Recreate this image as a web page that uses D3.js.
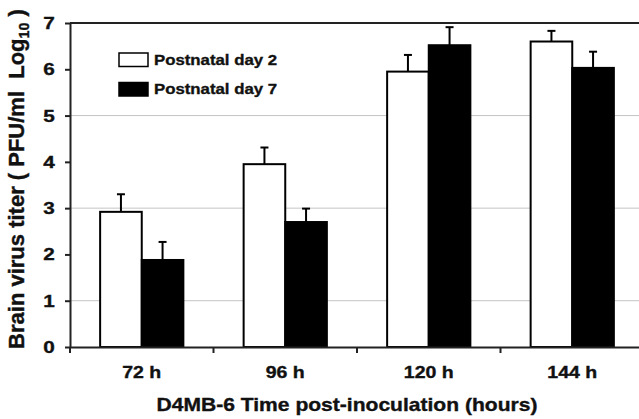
<!DOCTYPE html>
<html>
<head>
<meta charset="utf-8">
<script src="https://cdn.jsdelivr.net/npm/d3@7"></script>
<style>
  body { margin: 0; background: #fff; }
  svg { display: block; font-family: "Liberation Sans", Arial, sans-serif; font-weight: bold; }
  svg text { stroke: #111; stroke-width: 0.35px; }
</style>
</head>
<body>
<div id="container"></div>
<script>
// data
const categories = ["72 h", "96 h", "120 h", "144 h"];
const seriesNames = ["Postnatal day 2", "Postnatal day 7"];
const day2Values = [2.92, 3.95, 5.95, 6.60];
const day2Errors = [0.38, 0.36, 0.36, 0.23];
const day7Values = [1.88, 2.70, 6.52, 6.03];
const day7Errors = [0.39, 0.29, 0.39, 0.35];
const yTicks = [0, 1, 2, 3, 4, 5, 6, 7];
const gridValues = [1, 3, 5];

const width = 639;
const height = 419;
const margin = {top: 23, right: -5, bottom: 72, left: 70};
const innerRight = width - margin.right;
const innerBottom = height - margin.bottom;

const svg = d3.select("#container")
  .append("svg")
  .attr("width", width)
  .attr("height", height);

// scales
const x0 = d3.scaleBand()
  .domain(categories)
  .range([margin.left, innerRight])
  .paddingInner(0.42)
  .paddingOuter(0.21);

const x1 = d3.scaleBand()
  .domain(seriesNames)
  .range([0, x0.bandwidth()]);

const y = d3.scaleLinear()
  .domain([0, 7])
  .range([innerBottom, margin.top]);

const rows = categories.map((c, i) => ({
  cat: c,
  bars: [
    {name: seriesNames[0], value: day2Values[i], err: day2Errors[i], fill: "#fff"},
    {name: seriesNames[1], value: day7Values[i], err: day7Errors[i], fill: "#000"}
  ]
}));

// gridlines
svg.append("g")
  .selectAll("line")
  .data(gridValues)
  .join("line")
  .attr("x1", margin.left)
  .attr("x2", innerRight)
  .attr("y1", d => y(d))
  .attr("y2", d => y(d))
  .attr("stroke", "#c4c4c4")
  .attr("stroke-width", 1);

// top frame
svg.append("line")
  .attr("x1", margin.left)
  .attr("x2", innerRight)
  .attr("y1", y(7))
  .attr("y2", y(7))
  .attr("stroke", "#222")
  .attr("stroke-width", 2);

// bars
const group = svg.append("g")
  .selectAll("g")
  .data(rows)
  .join("g")
  .attr("transform", d => `translate(${x0(d.cat)},0)`);

group.selectAll("rect")
  .data(d => d.bars)
  .join("rect")
  .attr("x", d => x1(d.name))
  .attr("y", d => y(d.value))
  .attr("width", x1.bandwidth())
  .attr("height", d => y(0) - y(d.value))
  .attr("fill", d => d.fill)
  .attr("stroke", "#000")
  .attr("stroke-width", 2);

// error bars (upper only)
const err = group.selectAll("g.err")
  .data(d => d.bars)
  .join("g")
  .attr("class", "err")
  .attr("stroke", "#000")
  .attr("stroke-width", 2);

err.append("line")
  .attr("x1", d => x1(d.name) + x1.bandwidth() / 2)
  .attr("x2", d => x1(d.name) + x1.bandwidth() / 2)
  .attr("y1", d => y(d.value))
  .attr("y2", d => y(d.value + d.err));

err.append("line")
  .attr("x1", d => x1(d.name) + x1.bandwidth() / 2 - 4)
  .attr("x2", d => x1(d.name) + x1.bandwidth() / 2 + 4)
  .attr("y1", d => y(d.value + d.err))
  .attr("y2", d => y(d.value + d.err));

// y axis
const yAxis = svg.append("g")
  .attr("transform", `translate(${margin.left},0)`)
  .call(d3.axisLeft(y).tickValues(yTicks).tickFormat(d3.format("d")).tickSize(5).tickSizeOuter(0).tickPadding(7.5));

yAxis.selectAll("path, line").attr("stroke", "#222").attr("stroke-width", 2);
yAxis.selectAll("text")
  .attr("font-size", 17)
  .attr("font-family", "Liberation Sans, Arial, sans-serif")
  .attr("font-weight", "bold")
  .attr("fill", "#111")
  .attr("transform", "scale(1.22,1)");

// x axis
const xAxis = svg.append("g")
  .attr("transform", `translate(0,${innerBottom})`)
  .call(d3.axisBottom(x0).tickSize(0).tickSizeOuter(0).tickPadding(20));

xAxis.select("path").attr("stroke", "#222").attr("stroke-width", 2);
xAxis.selectAll("text")
  .attr("font-size", 16)
  .attr("font-family", "Liberation Sans, Arial, sans-serif")
  .attr("font-weight", "bold")
  .attr("fill", "#111")
  .attr("transform", "scale(1.22,1)");

// category boundary ticks
xAxis.append("g")
  .selectAll("line")
  .data(d3.range(categories.length + 1))
  .join("line")
  .attr("x1", i => margin.left + i * x0.step())
  .attr("x2", i => margin.left + i * x0.step())
  .attr("y1", 0)
  .attr("y2", 6)
  .attr("stroke", "#222")
  .attr("stroke-width", 2);

// axis titles
svg.append("text")
  .attr("transform", `translate(${(margin.left + 644) / 2 - 10},411) scale(1.17,1)`)
  .attr("text-anchor", "middle")
  .attr("font-size", 18)
  .attr("fill", "#111")
  .text("D4MB-6 Time post-inoculation (hours)");

const yTitle = svg.append("text")
  .attr("transform", "translate(24,179) rotate(-90) scale(1.1,1.15)")
  .attr("text-anchor", "middle")
  .attr("font-size", 20)
  .attr("fill", "#111");
yTitle.append("tspan").text("Brain virus titer ( PFU/ml\u00a0 Log");
yTitle.append("tspan").attr("font-size", 13).attr("dy", 4).text("10");
yTitle.append("tspan").attr("dy", -4).text(" )");

// legend
const legend = svg.append("g")
  .selectAll("g")
  .data(seriesNames)
  .join("g")
  .attr("transform", (d, i) => `translate(119,${53 + i * 29.5})`);

legend.append("rect")
  .attr("width", 29)
  .attr("height", 13.5)
  .attr("fill", (d, i) => i === 0 ? "#fff" : "#000")
  .attr("stroke", "#000")
  .attr("stroke-width", 1.5);

legend.append("text")
  .attr("transform", "translate(35,11.5) scale(1.12,1)")
  .attr("font-size", 15)
  .attr("fill", "#111")
  .text(d => d);
</script>
</body>
</html>
